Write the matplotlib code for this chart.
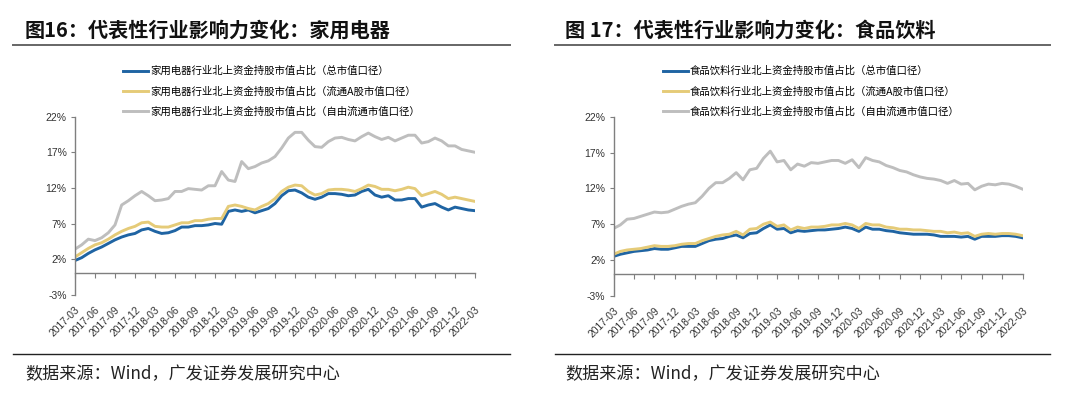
import numpy as np
import pandas as pd
from matplotlib import pyplot as plt
from matplotlib.lines import Line2D

plt.rcParams['font.family'] = ['Liberation Sans', 'Noto Sans CJK SC', 'DejaVu Sans']
CJK = ['Noto Sans CJK SC', 'Liberation Sans', 'DejaVu Sans']

# monthly, 2017-03 .. 2022-03
months = pd.date_range("2017-03-01", "2022-03-01", freq="MS")
tick_labels = [d.strftime("%Y-%m") for d in months[::3]]

# 家用电器 (%)
appl_total = [1.8, 2.2, 2.8, 3.3, 3.7, 4.2, 4.7, 5.1, 5.4, 5.6, 6.1, 6.3, 5.9, 5.6, 5.7, 6.0,
              6.5, 6.5, 6.7, 6.7, 6.8, 7.0, 6.9, 8.7, 8.9, 8.7, 8.9, 8.5, 8.8, 9.1, 9.8,
              10.9, 11.6, 11.7, 11.3, 10.7, 10.4, 10.7, 11.2, 11.2, 11.1, 10.9, 11.0,
              11.5, 11.8, 11.0, 10.7, 10.9, 10.3, 10.3, 10.5, 10.5, 9.3, 9.6, 9.8, 9.3,
              8.9, 9.3, 9.1, 8.9, 8.8]
appl_float = [2.3, 2.9, 3.5, 4.0, 4.3, 4.8, 5.4, 5.9, 6.3, 6.6, 7.1, 7.2, 6.6, 6.5, 6.5, 6.8,
              7.1, 7.1, 7.4, 7.4, 7.6, 7.7, 7.7, 9.4, 9.6, 9.4, 9.1, 8.9, 9.4, 9.8, 10.5,
              11.5, 12.1, 12.4, 12.3, 11.5, 11.0, 11.2, 11.7, 11.8, 11.8, 11.7, 11.5, 11.9,
              12.4, 12.2, 11.8, 11.8, 11.6, 11.8, 12.1, 11.9, 10.9, 11.2, 11.5, 11.1, 10.5,
              10.7, 10.5, 10.3, 10.1]
appl_free = [3.4, 4.0, 4.8, 4.6, 5.0, 5.7, 6.8, 9.6, 10.2, 10.9, 11.5, 10.9, 10.2, 10.3,
             10.5, 11.5, 11.5, 11.9, 11.8, 11.7, 12.3, 12.3, 14.3, 13.1, 12.9, 15.7, 14.7,
             15.0, 15.5, 15.8, 16.4, 17.6, 19.0, 19.8, 19.8, 18.7, 17.8, 17.7, 18.5, 19.0,
             19.1, 18.8, 18.6, 19.2, 19.7, 19.2, 18.8, 19.1, 18.6, 19.0, 19.4, 19.4, 18.3,
             18.5, 19.0, 18.6, 17.9, 17.9, 17.4, 17.2, 17.0]

# 食品饮料 (%)
food_total = [2.5, 2.8, 3.0, 3.2, 3.3, 3.4, 3.6, 3.5, 3.5, 3.7, 3.9, 3.9, 3.9, 4.3, 4.7,
              4.9, 5.0, 5.3, 5.5, 5.1, 5.7, 5.8, 6.4, 6.9, 6.3, 6.4, 5.8, 6.1, 6.0, 6.1,
              6.2, 6.2, 6.3, 6.4, 6.6, 6.4, 6.0, 6.6, 6.3, 6.3, 6.1, 6.0, 5.8, 5.7, 5.6,
              5.6, 5.6, 5.5, 5.3, 5.3, 5.3, 5.2, 5.3, 4.9, 5.3, 5.3, 5.3, 5.4, 5.4, 5.3, 5.1]
food_float = [2.8, 3.2, 3.4, 3.5, 3.6, 3.8, 4.0, 3.9, 3.9, 4.0, 4.2, 4.3, 4.3, 4.7, 5.0,
              5.3, 5.5, 5.6, 6.0, 5.5, 6.3, 6.4, 7.0, 7.3, 6.7, 6.9, 6.2, 6.6, 6.4, 6.6,
              6.6, 6.7, 6.9, 6.9, 7.1, 6.9, 6.4, 7.1, 6.9, 6.9, 6.6, 6.5, 6.3, 6.3, 6.2,
              6.2, 6.1, 6.0, 6.0, 5.8, 5.9, 5.7, 5.8, 5.3, 5.6, 5.7, 5.6, 5.7, 5.7, 5.6, 5.4]
food_free = [6.4, 6.9, 7.7, 7.8, 8.1, 8.4, 8.7, 8.6, 8.7, 9.1, 9.5, 9.8, 10.0, 10.9, 12.0,
             12.8, 12.8, 13.4, 14.2, 13.2, 14.6, 14.8, 16.2, 17.2, 15.7, 15.9, 14.6, 15.4,
             15.1, 15.6, 15.5, 15.7, 15.9, 15.9, 15.5, 16.0, 14.9, 16.3, 15.9, 15.7, 15.2,
             14.9, 14.5, 14.3, 13.9, 13.6, 13.4, 13.3, 13.1, 12.7, 13.1, 12.6, 12.7, 11.8,
             12.3, 12.6, 12.5, 12.7, 12.6, 12.3, 11.9]

appl_names = ["家用电器行业北上资金持股市值占比（总市值口径）",
              "家用电器行业北上资金持股市值占比（流通A股市值口径）",
              "家用电器行业北上资金持股市值占比（自由流通市值口径）"]
food_names = ["食品饮料行业北上资金持股市值占比（总市值口径）",
              "食品饮料行业北上资金持股市值占比（流通A股市值口径）",
              "食品饮料行业北上资金持股市值占比（自由流通市值口径）"]

colors = ["#1F64A3", "#E5CB78", "#BEBEBE"]
yticks = [-3, 2, 7, 12, 17, 22]

fig = plt.figure(figsize=(10.8, 4.12), dpi=100)


def panel(rect, series, names, legend_xy):
    ax = fig.add_axes(rect)
    # spine position first: moving it resets the ticks
    ax.spines["bottom"].set_position(("data", 0))
    for sp in ["top", "right"]:
        ax.spines[sp].set_visible(False)
    for sp in ["left", "bottom"]:
        ax.spines[sp].set_color("#7f7f7f")
        ax.spines[sp].set_linewidth(1.0)
    x = np.arange(len(months))
    for s, c, n in zip(series, colors, names):
        ax.plot(x, s, color=c, lw=2.1, label=n, solid_joinstyle="round")
    ax.set_xlim(0, len(months) - 1)
    ax.set_ylim(-3, 22)
    ax.set_yticks(yticks)
    ax.set_yticklabels([f"{v}%" for v in yticks], fontsize=7.5, color="#333333")
    ax.set_xticks(x[::3])
    ax.set_xticklabels(tick_labels, fontsize=7.4, color="#333333")
    ax.tick_params(axis="x", direction="out", length=3.5, color="#7f7f7f", pad=19,
                   labelrotation=45)
    ax.tick_params(axis="y", direction="out", length=3, color="#7f7f7f", pad=3)
    plt.setp(ax.get_xticklabels(), ha="right", rotation_mode="anchor")
    ax.legend(loc="upper left", bbox_to_anchor=legend_xy, bbox_transform=fig.transFigure,
              frameon=False, prop={"family": CJK, "size": 7.5}, handlelength=2.4,
              handletextpad=0.2, labelspacing=0.95, borderpad=0, borderaxespad=0)
    return ax


panel([75 / 1080, 1 - 294.7 / 412, 400 / 1080, 178 / 412],
      [appl_total, appl_float, appl_free], appl_names, (123 / 1080, 1 - 66 / 412))
panel([613.5 / 1080, 1 - 295.8 / 412, 409 / 1080, 179 / 412],
      [food_total, food_float, food_free], food_names, (663 / 1080, 1 - 66 / 412))

# headers and footers
for x0, x1, tx, title in [(13, 510, 25, "图16：代表性行业影响力变化：家用电器"),
                          (555, 1050, 565, "图 17：代表性行业影响力变化：食品饮料")]:
    fig.text(tx / 1080, 1 - 30 / 412, title, family=CJK, fontsize=14.5, fontweight="bold",
             va="center", ha="left", color="#111111")
    fig.add_artist(Line2D([x0 / 1080, x1 / 1080], [1 - 45 / 412] * 2, color="#666666", lw=1.4))
    fig.add_artist(Line2D([x0 / 1080, x1 / 1080], [1 - 354 / 412] * 2, color="#222222", lw=1.0))
    fig.text(tx / 1080, 1 - 374 / 412, "数据来源：Wind，广发证券发展研究中心", family=CJK,
             fontsize=12.3, va="center", ha="left", color="#222222")

fig.savefig("out.png", dpi=100)
